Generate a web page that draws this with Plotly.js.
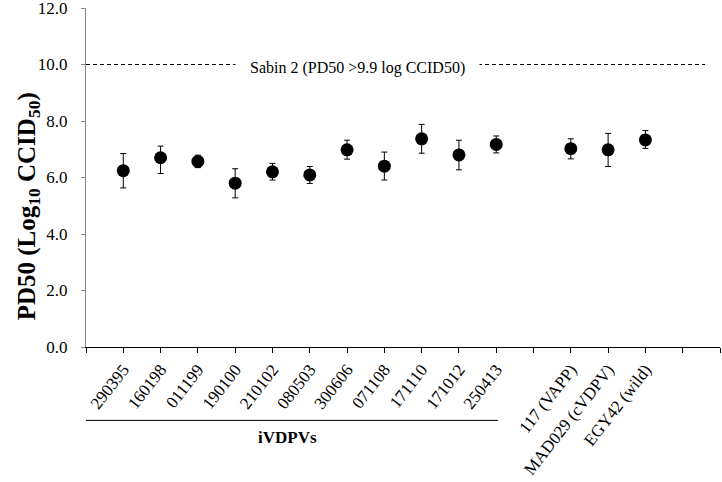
<!DOCTYPE html>
<html>
<head>
<meta charset="utf-8">
<script src="https://cdn.plot.ly/plotly-3.0.1.min.js"></script>
<style>html,body{margin:0;padding:0;background:#fff;}</style>
</head>
<body>
<div id="chart" style="width:722px;height:482px;"></div>
<script>
// ---- data ----
var ivdpvNames = ["290395","160198","011199","190100","210102","080503","300606","071108","171110","171012","250413"];
var ivdpvPD50 = [6.24, 6.70, 6.57, 5.80, 6.20, 6.09, 6.98, 6.40, 7.37, 6.80, 7.17];
var ivdpvErrPlus = [0.61, 0.41, 0.22, 0.51, 0.30, 0.30, 0.34, 0.50, 0.51, 0.52, 0.30];
var ivdpvErrMinus = [0.61, 0.56, 0.22, 0.52, 0.29, 0.30, 0.33, 0.49, 0.51, 0.53, 0.30];

var otherNames = ["117 (VAPP)","MAD029 (cVDPV)","EGY42 (wild)"];
var otherPD50 = [7.02, 6.98, 7.33];
var otherErrPlus = [0.35, 0.58, 0.33];
var otherErrMinus = [0.36, 0.59, 0.30];

var sabin2Threshold = 10.0;
var sabin2Label = "Sabin 2 (PD50 >9.9 log CCID50)";
var groupLabel = "iVDPVs";
var yTitle = "PD50 (Log<sub>10</sub> CCID<sub>50</sub>)";
var yTickVals = [0, 2, 4, 6, 8, 10, 12];
var yTickText = ["0.0","2.0","4.0","6.0","8.0","10.0","12.0"];

// ---- layout of category slots (gap between groups, empty slots at end) ----
var names = [], x = [], y = [], ep = [], em = [];
ivdpvNames.forEach(function(n, i){ names.push(n); x.push(i); y.push(ivdpvPD50[i]); ep.push(ivdpvErrPlus[i]); em.push(ivdpvErrMinus[i]); });
var offset = ivdpvNames.length + 1;
otherNames.forEach(function(n, i){ names.push(n); x.push(offset + i); y.push(otherPD50[i]); ep.push(otherErrPlus[i]); em.push(otherErrMinus[i]); });
var xMin = -1, xMax = offset + otherNames.length + 1;
var slotTicks = [];
for (var t = xMin; t <= xMax; t++) slotTicks.push(t);

var FONT = "Liberation Serif, Times New Roman, serif";

var trace = {
  type: "scatter", mode: "markers",
  x: x, y: y,
  marker: {color: "#000", size: 13},
  error_y: {type: "data", symmetric: false, array: ep, arrayminus: em, color: "#000", thickness: 1, width: 3},
  hoverinfo: "skip", showlegend: false
};

var layout = {
  width: 722, height: 482,
  margin: {l: 86, r: 2, t: 8, b: 135},
  paper_bgcolor: "#fff", plot_bgcolor: "#fff",
  font: {family: FONT, color: "#000", size: 16},
  showlegend: false,
  xaxis: {
    range: [xMin, xMax], tickmode: "array", tickvals: x, ticktext: names,
    tickangle: -52, ticks: "outside", ticklen: 5, tickcolor: "#000", tickwidth: 1,
    minor: {tickmode: "array", tickvals: slotTicks, ticks: "outside", ticklen: 5, tickcolor: "#000", tickwidth: 1, showgrid: false},
    showline: true, linecolor: "#000", linewidth: 1, showgrid: false, zeroline: false,
    tickfont: {family: FONT, size: 17, color: "#000"}, ticklabeloverflow: "allow", fixedrange: true
  },
  yaxis: {
    range: [0, 12], tickmode: "array", tickvals: yTickVals, ticktext: yTickText,
    ticks: "outside", ticklen: 4, tickcolor: "#868686", tickwidth: 1,
    showline: true, linecolor: "#868686", linewidth: 1, showgrid: false, zeroline: false,
    tickfont: {family: FONT, size: 17, color: "#000"}, ticklabelstandoff: 10,
    ticklabeloverflow: "allow", fixedrange: true
  },
  shapes: [
    {type: "line", xref: "x", yref: "y", x0: xMin, x1: xMax - 0.4, y0: sabin2Threshold, y1: sabin2Threshold,
     line: {color: "#000", width: 1, dash: "4px,3px"}, layer: "below"},
    {type: "line", xref: "x", yref: "paper", x0: xMin - 0.15, x1: ivdpvNames.length - 0.95, y0: -0.2165, y1: -0.2165,
     line: {color: "#000", width: 1}}
  ],
  annotations: [
    {text: sabin2Label, xref: "x", yref: "y", x: 6.29, y: sabin2Threshold, yshift: -3, showarrow: false,
     bgcolor: "#fff", borderpad: 14, font: {family: FONT, size: 16, color: "#000"}},
    {text: "<b>" + groupLabel + "</b>", xref: "x", yref: "paper", x: 4.39, y: -0.30, showarrow: false,
     font: {family: FONT, size: 17, color: "#000"}},
    {text: "<b>" + yTitle + "</b>", xref: "paper", yref: "paper", x: -0.118, y: 0.414, textangle: -90, showarrow: false,
     font: {family: FONT, size: 25, color: "#000"}}
  ]
};

Plotly.newPlot("chart", [trace], layout, {displayModeBar: false, staticPlot: true});
</script>
</body>
</html>
